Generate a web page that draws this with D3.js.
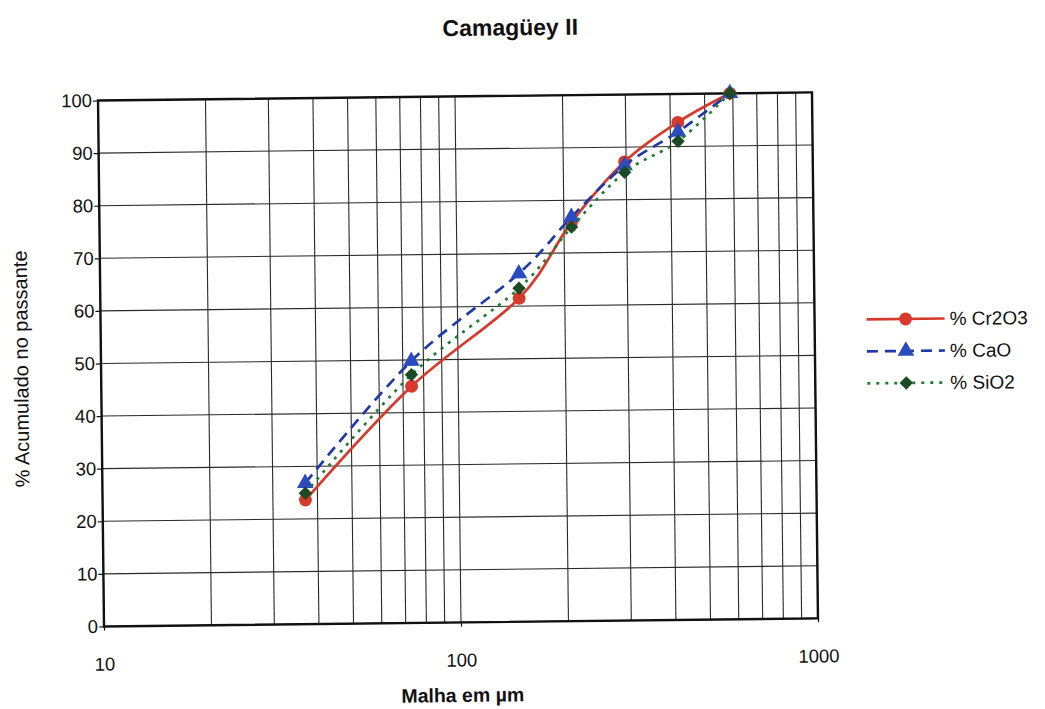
<!DOCTYPE html>
<html>
<head>
<meta charset="utf-8">
<script src="https://cdn.jsdelivr.net/npm/d3@7"></script>
<style>
  body { margin: 0; background: #fff; }
  text { font-family: "Liberation Sans", Arial, sans-serif; fill: #111; }
</style>
</head>
<body>
<svg id="chart" width="1045" height="709"></svg>
<script>
// Sieve openings (µm) and cumulative passing (%) per oxide
const meshSizes = [37, 74, 149, 210, 297, 420, 589];
const cr2o3 = [23.6, 45.0, 61.5, 75.8, 87.2, 94.6, 100];
const cao   = [26.8, 49.8, 66.2, 76.8, 86.5, 92.8, 100];
const sio2  = [24.9, 47.2, 63.4, 74.9, 85.2, 91.0, 100];
const seriesNames = ["% Cr2O3", "% CaO", "% SiO2"];
const xTickLabels = [10, 100, 1000];
const yTickLabels = [0, 10, 20, 30, 40, 50, 60, 70, 80, 90, 100];

const svg = d3.select("#chart");
const W = 1045, H = 709;
svg.append("rect").attr("width", W).attr("height", H).attr("fill", "#fff");

// the printed page sits slightly askew
const root = svg.append("g").attr("transform", "rotate(-0.65, 460, 360)");

const plot = { left: 101, right: 815, top: 96.4, bottom: 622.4 };
const x = d3.scaleLog().domain([10, 1000]).range([plot.left, plot.right]);
const y = d3.scaleLinear().domain([0, 100]).range([plot.bottom, plot.top]);

// grid
const grid = root.append("g").attr("stroke", "#2a2a2a").attr("stroke-width", 1.1);
grid.selectAll("line.v").data(x.ticks()).join("line")
  .attr("x1", d => x(d)).attr("x2", d => x(d))
  .attr("y1", plot.top).attr("y2", plot.bottom);
grid.selectAll("line.h").data(yTickLabels).join("line")
  .attr("x1", plot.left).attr("x2", plot.right)
  .attr("y1", d => y(d)).attr("y2", d => y(d));

// axes
const yAxis = root.append("g").attr("transform", `translate(${plot.left},0)`)
  .call(d3.axisLeft(y).tickValues(yTickLabels).tickSize(5).tickPadding(1));
const xAxis = root.append("g").attr("transform", `translate(0,${plot.bottom})`)
  .call(d3.axisBottom(x).tickValues(xTickLabels).tickFormat(d3.format("d")).tickSize(4).tickPadding(27));
[yAxis, xAxis].forEach(a => {
  a.select(".domain").remove();
  a.selectAll(".tick line").attr("stroke", "#111").attr("stroke-width", 1.2);
  a.selectAll(".tick text").style("font-size", "18.5px").attr("fill", "#111")
    .style("font-family", "'Liberation Sans', Arial, sans-serif");
});

// frame
root.append("rect")
  .attr("x", plot.left).attr("y", plot.top)
  .attr("width", plot.right - plot.left).attr("height", plot.bottom - plot.top)
  .attr("fill", "none").attr("stroke", "#111").attr("stroke-width", 2.4);

// series
const series = [
  { name: seriesNames[0], values: cr2o3, color: "#d63a2c", marker: "#d63a2c", dash: null, sym: "circle" },
  { name: seriesNames[1], values: cao,   color: "#1f3aa8", marker: "#2a4cc0", dash: "11,7", sym: "triangle" },
  { name: seriesNames[2], values: sio2,  color: "#237a33", marker: "#1b4a24", dash: "3,6", sym: "diamond" }
];

function symbolPath(kind) {
  if (kind === "circle") return d3.symbol(d3.symbolCircle, 130)();
  if (kind === "triangle") return d3.symbol(d3.symbolTriangle, 120)();
  return d3.symbol(d3.symbolSquare, 90)();
}
function symbolTransform(kind, px, py) {
  return kind === "diamond" ? `translate(${px},${py}) rotate(45)` : `translate(${px},${py})`;
}

const line = d3.line()
  .x(d => x(d[0])).y(d => y(d[1]))
  .curve(d3.curveCardinal.tension(0));

series.forEach(s => {
  const pts = meshSizes.map((m, i) => [m, s.values[i]]);
  const g = root.append("g");
  g.append("path").datum(pts)
    .attr("d", line).attr("fill", "none")
    .attr("stroke", s.color).attr("stroke-width", 2.7)
    .attr("stroke-dasharray", s.dash)
    .attr("stroke-linecap", "butt");
  g.selectAll("path.m").data(pts).join("path")
    .attr("d", symbolPath(s.sym))
    .attr("transform", d => symbolTransform(s.sym, x(d[0]), y(d[1])))
    .attr("fill", s.marker);
});

// legend
const legend = root.append("g");
series.forEach((s, i) => {
  const ly = 324 + i * 32;
  legend.append("line")
    .attr("x1", 867).attr("x2", 945).attr("y1", ly).attr("y2", ly)
    .attr("stroke", s.color).attr("stroke-width", 2.7)
    .attr("stroke-dasharray", s.dash);
  legend.append("path").attr("d", symbolPath(s.sym))
    .attr("transform", symbolTransform(s.sym, 906, ly))
    .attr("fill", s.marker);
  legend.append("text").attr("x", 950).attr("y", ly).attr("dy", "0.35em")
    .style("font-size", "19px").text(s.name);
});

// titles
root.append("text").attr("x", 514).attr("y", 36).attr("text-anchor", "middle")
  .style("font-size", "23px").style("font-weight", "bold").text("Camagüey II");
root.append("text").attr("x", 459).attr("y", 702).attr("text-anchor", "middle")
  .style("font-size", "19.5px").style("font-weight", "bold").text("Malha em µm");
root.append("text")
  .attr("transform", "translate(28,364) rotate(-90)")
  .attr("text-anchor", "middle")
  .style("font-size", "20px").text("% Acumulado no passante");
</script>
</body>
</html>
